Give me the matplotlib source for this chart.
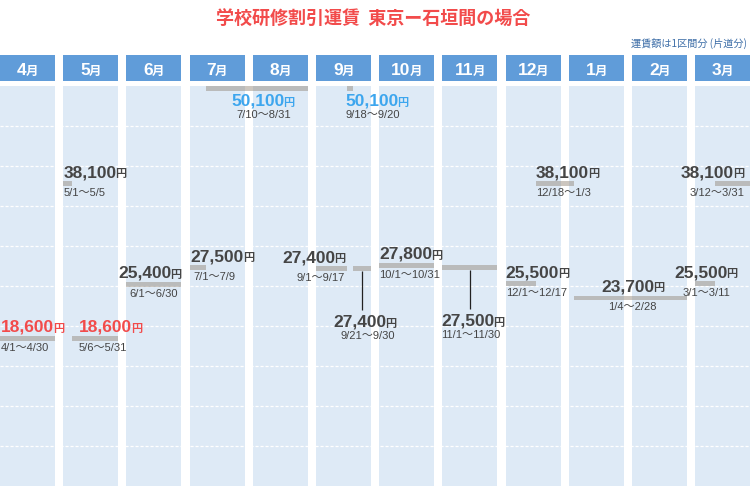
import matplotlib.pyplot as plt
from matplotlib.transforms import offset_copy

# フォント (英数字は Liberation Sans, 日本語は Noto Sans CJK JP)
plt.rcParams['font.family'] = ['Liberation Sans', 'Noto Sans CJK JP']

# データ
months = [4, 5, 6, 7, 8, 9, 10, 11, 12, 1, 2, 3]
month_days = [30, 31, 30, 31, 31, 30, 31, 30, 31, 31, 28, 31]
starts = ['4/1', '5/1', '5/6', '6/1', '7/1', '7/10', '9/1', '9/18',
          '9/21', '10/1', '11/1', '12/1', '12/18', '1/4', '3/1', '3/12']
ends = ['4/30', '5/5', '5/31', '6/30', '7/9', '8/31', '9/17', '9/20',
        '9/30', '10/31', '11/30', '12/17', '1/3', '2/28', '3/11', '3/31']
fares = [18600, 38100, 18600, 25400, 27500, 50100, 27400, 50100,
         27400, 27800, 27500, 25500, 38100, 23700, 25500, 38100]
title = '学校研修割引運賃  東京ー石垣間の場合'
note = '運賃額は1区間分 (片道分)'

# ラベルの置き方 (価格の揃え, 価格のずらし[px], 日付の揃え, 日付のずらし[px], 位置)
label_layout = [
    ('left', 1, 'left', 1, 'above'),
    ('left', 0, 'left', 0, 'above'),
    ('left', 7, 'left', 7, 'above'),
    ('right', 0, 'center', 0, 'above'),
    ('left', 1, 'left', 4, 'above'),
    ('center', 6, 'center', 7, 'below'),
    ('right', -2, 'right', -2, 'above'),
    ('left', -2, 'left', -2, 'below'),
    ('center', 3, 'center', 6, 'leader'),
    ('left', 0, 'left', 0, 'above'),
    ('center', 3, 'center', 1, 'leader'),
    ('left', 0, 'left', 0, 'above'),
    ('left', 0, 'left', 0, 'above'),
    ('center', 2, 'center', 2, 'above'),
    ('center', 1, 'center', 1, 'above'),
    ('right', -6, 'right', -6, 'above'),
]

# レイアウト (ピクセル)
W, H = 750, 486
PITCH, COLW = 63.2, 55
YTOP = 50400
PX = YTOP / 400  # 1px あたりの円

HEAD_BLUE = '#609cd9'
COL_BG = '#deeaf6'
BAR = '#8f8273'
DARK = '#454545'
RED = '#f24b4b'
BLUE = '#3da6ee'


def date_x(s, end=False):
    m, d = map(int, s.split('/'))
    i = months.index(m)
    n = month_days[i]
    return i * PITCH + (d if end else d - 1) / n * COLW


fig = plt.figure(figsize=(W / 100, H / 100), dpi=100)
renderer = fig.canvas.get_renderer()


def two_size_text(ax, x, y, big, small, bsize, ssize, color, align, dx, dy):
    t1 = ax.text(x, y, big, fontsize=bsize, weight='bold', color=color,
                 va='baseline', zorder=5)
    t2 = ax.text(x, y, small, fontsize=ssize, weight='bold', color=color,
                 va='baseline', zorder=5)
    w1 = t1.get_window_extent(renderer).width - 1
    w2 = t2.get_window_extent(renderer).width
    shift = dx - {'left': 0, 'center': (w1 + w2) / 2, 'right': w1 + w2}[align]
    t1.set_transform(offset_copy(ax.transData, fig=fig, x=shift, y=dy, units='dots'))
    t2.set_transform(offset_copy(ax.transData, fig=fig, x=shift + w1, y=dy, units='dots'))


col_starts = [i * PITCH for i in range(len(months))]

# 月の見出し
hax = fig.add_axes([0, (H - 80.7) / H, 1, 25.7 / H])
hax.set_xlim(0, W)
hax.set_ylim(0, 1)
hax.axis('off')
hax.bar(col_starts, 1, width=COLW, align='edge', color=HEAD_BLUE)
for i, m in enumerate(months):
    two_size_text(hax, col_starts[i] + COLW / 2, 0.22, str(m), '月',
                  12.5, 9, 'white', 'center', 0, 0)

# 本体
ax = fig.add_axes([0, 0, 1, 400 / H])
ax.set_xlim(0, W)
ax.set_ylim(0, YTOP)
ax.axis('off')
ax.bar(col_starts, YTOP, width=COLW, align='edge', color=COL_BG, zorder=1)
for k in range(1, 10):
    ax.axhline(k * YTOP / 10, color='white', lw=0.9, ls=(0, (2.5, 1.5)), zorder=2)

for i, fare in enumerate(fares):
    xs = date_x(starts[i])
    xe = date_x(ends[i], end=True)
    ax.barh(fare, xe - xs, left=xs, height=4.7 * PX, color=BAR, alpha=0.45,
            zorder=3)

    if fare == min(fares):
        color = RED
    elif fare == max(fares):
        color = BLUE
    else:
        color = DARK

    p_al, p_dx, d_al, d_dx, mode = label_layout[i]
    anchor = {'left': xs, 'center': (xs + xe) / 2, 'right': xe}
    if mode == 'above':
        p_dy, d_dy = 6.5, -4.5
    elif mode == 'below':
        p_dy, d_dy = -17.5, -21.5
    else:
        xc = (xs + xe) / 2
        ax.vlines(xc, fare - 41 * PX, fare - 2.4 * PX, color='#222222', lw=0.9,
                  zorder=3)
        anchor = {'left': xc, 'center': xc, 'right': xc}
        p_dy, d_dy = -58, -62

    two_size_text(ax, anchor[p_al], fare, f'{fare:,}', '円', 12.5, 8,
                  color, p_al, p_dx, p_dy)
    ax.text(anchor[d_al], fare, f'{starts[i]}～{ends[i]}', fontsize=8,
            color='#444444', ha=d_al, va='top', zorder=5,
            transform=offset_copy(ax.transData, fig=fig, x=d_dx, y=d_dy, units='dots'))

# タイトル
fig.text(373 / W, 1 - 19 / H, title, ha='center', va='center', color=RED,
         fontsize=13, weight='bold', family=['Noto Sans CJK JP'])
fig.text(747 / W, 1 - 43 / H, note, ha='right', va='center', color='#3f6fa8',
         fontsize=7.3, family=['Noto Sans CJK JP'])

fig.savefig('out.png', dpi=100)
